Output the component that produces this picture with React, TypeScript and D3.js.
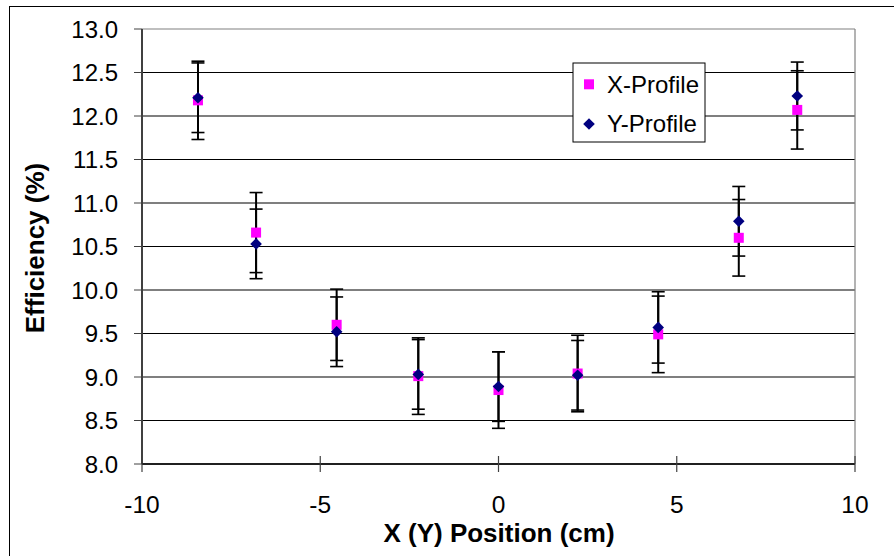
import React from "react";
import * as d3 from "d3";

const positions = [-8.43, -6.8, -4.54, -2.25, 0, 2.22, 4.48, 6.74, 8.38];
const xProfile = [12.18, 10.66, 9.6, 9.01, 8.85, 9.04, 9.49, 10.6, 12.07];
const xProfileErr = [0.45, 0.46, 0.41, 0.44, 0.44, 0.44, 0.44, 0.44, 0.45];
const yProfile = [12.21, 10.53, 9.52, 9.03, 8.89, 9.02, 9.57, 10.79, 12.23];
const yProfileErr = [0.4, 0.4, 0.4, 0.4, 0.4, 0.4, 0.41, 0.4, 0.39];
const xTicks = [-10, -5, 0, 5, 10];
const yTicks = [8, 8.5, 9, 9.5, 10, 10.5, 11, 11.5, 12, 12.5, 13];
const seriesNames = ["X-Profile", "Y-Profile"];

const W = 894;
const H = 556;
const font = "'Liberation Sans', Arial, sans-serif";

export default function App() {
  const x = d3.scaleLinear().domain([-10, 10]).range([142, 855]);
  const y = d3.scaleLinear().domain([8, 13]).range([464, 29]);
  const sq = 10;
  const dm = 5.8;
  const cap = 6.5;

  const errBars = (vals: number[], errs: number[], key: string) =>
    positions.map((p, i) => {
      const cx = x(p);
      const top = y(vals[i] + errs[i]);
      const bot = y(vals[i] - errs[i]);
      return (
        <g key={key + i} stroke="#000">
          <line x1={cx} x2={cx} y1={top} y2={bot} strokeWidth={2} />
          <line x1={cx - cap} x2={cx + cap} y1={top} y2={top} strokeWidth={1.6} />
          <line x1={cx - cap} x2={cx + cap} y1={bot} y2={bot} strokeWidth={1.6} />
        </g>
      );
    });

  const diamond = (cx: number, cy: number, r: number) =>
    `M${cx},${cy - r}L${cx + r},${cy}L${cx},${cy + r}L${cx - r},${cy}Z`;

  return (
    <svg
      width={W}
      height={H}
      style={{ position: "absolute", left: 0, top: 0, background: "#fff" }}
      fontFamily={font}
    >
      <rect x={0} y={0} width={W} height={H} fill="#fff" />
      {/* outer chart border */}
      <rect x={9.5} y={6.5} width={W + 20} height={H + 20} fill="none" stroke="#000" strokeWidth={1} />

      {/* gridlines */}
      {yTicks.map((t) => (
        <line key={"g" + t} x1={x(-10)} x2={x(10)} y1={y(t)} y2={y(t)} stroke={t === 13 ? "#808080" : "#000"} strokeWidth={1.2} />
      ))}
      {/* plot area border right */}
      <line x1={x(10)} x2={x(10)} y1={y(13)} y2={y(8)} stroke="#808080" strokeWidth={1.2} />

      {/* y axis */}
      <line x1={x(-10)} x2={x(-10)} y1={y(13)} y2={y(8)} stroke="#404040" strokeWidth={2} />
      {yTicks.map((t) => (
        <g key={"yt" + t}>
          <line x1={x(-10) - 8} x2={x(-10)} y1={y(t)} y2={y(t)} stroke="#404040" strokeWidth={1} />
          <text x={118} y={y(t) + 8.5} textAnchor="end" fontSize={24} fill="#000">
            {d3.format(".1f")(t)}
          </text>
        </g>
      ))}

      {/* x axis */}
      <line x1={x(-10)} x2={x(10)} y1={y(8)} y2={y(8)} stroke="#000" strokeWidth={1.5} />
      {xTicks.map((t) => (
        <g key={"xt" + t}>
          <line x1={x(t)} x2={x(t)} y1={y(8) - 8} y2={y(8) + 8} stroke="#404040" strokeWidth={1.2} />
          <text x={x(t)} y={513} textAnchor="middle" fontSize={24.5} fill="#000">
            {t}
          </text>
        </g>
      ))}

      {/* axis titles */}
      <text x={499} y={542} textAnchor="middle" fontSize={26} fontWeight="bold" fill="#000">
        X (Y) Position (cm)
      </text>
      <text transform="translate(44,248) rotate(-90)" textAnchor="middle" fontSize={26} fontWeight="bold" fill="#000">
        Efficiency (%)
      </text>

      {/* error bars */}
      {errBars(xProfile, xProfileErr, "ex")}
      {errBars(yProfile, yProfileErr, "ey")}

      {/* markers */}
      {positions.map((p, i) => (
        <rect key={"sq" + i} x={x(p) - sq / 2} y={y(xProfile[i]) - sq / 2} width={sq} height={sq} fill="#FF00FF" />
      ))}
      {positions.map((p, i) => (
        <path key={"dm" + i} d={diamond(x(p), y(yProfile[i]), dm)} fill="#000080" />
      ))}

      {/* legend */}
      <rect x={573} y={63} width={132} height={79} fill="#fff" stroke="#000" strokeWidth={1} />
      <rect x={589 - sq / 2} y={84.3 - sq / 2} width={sq} height={sq} fill="#FF00FF" />
      <path d={diamond(589, 124, dm)} fill="#000080" />
      <text x={607} y={92.7} fontSize={24} fill="#000">
        {seriesNames[0]}
      </text>
      <text x={607} y={131.7} fontSize={24} fill="#000">
        {seriesNames[1]}
      </text>
    </svg>
  );
}
